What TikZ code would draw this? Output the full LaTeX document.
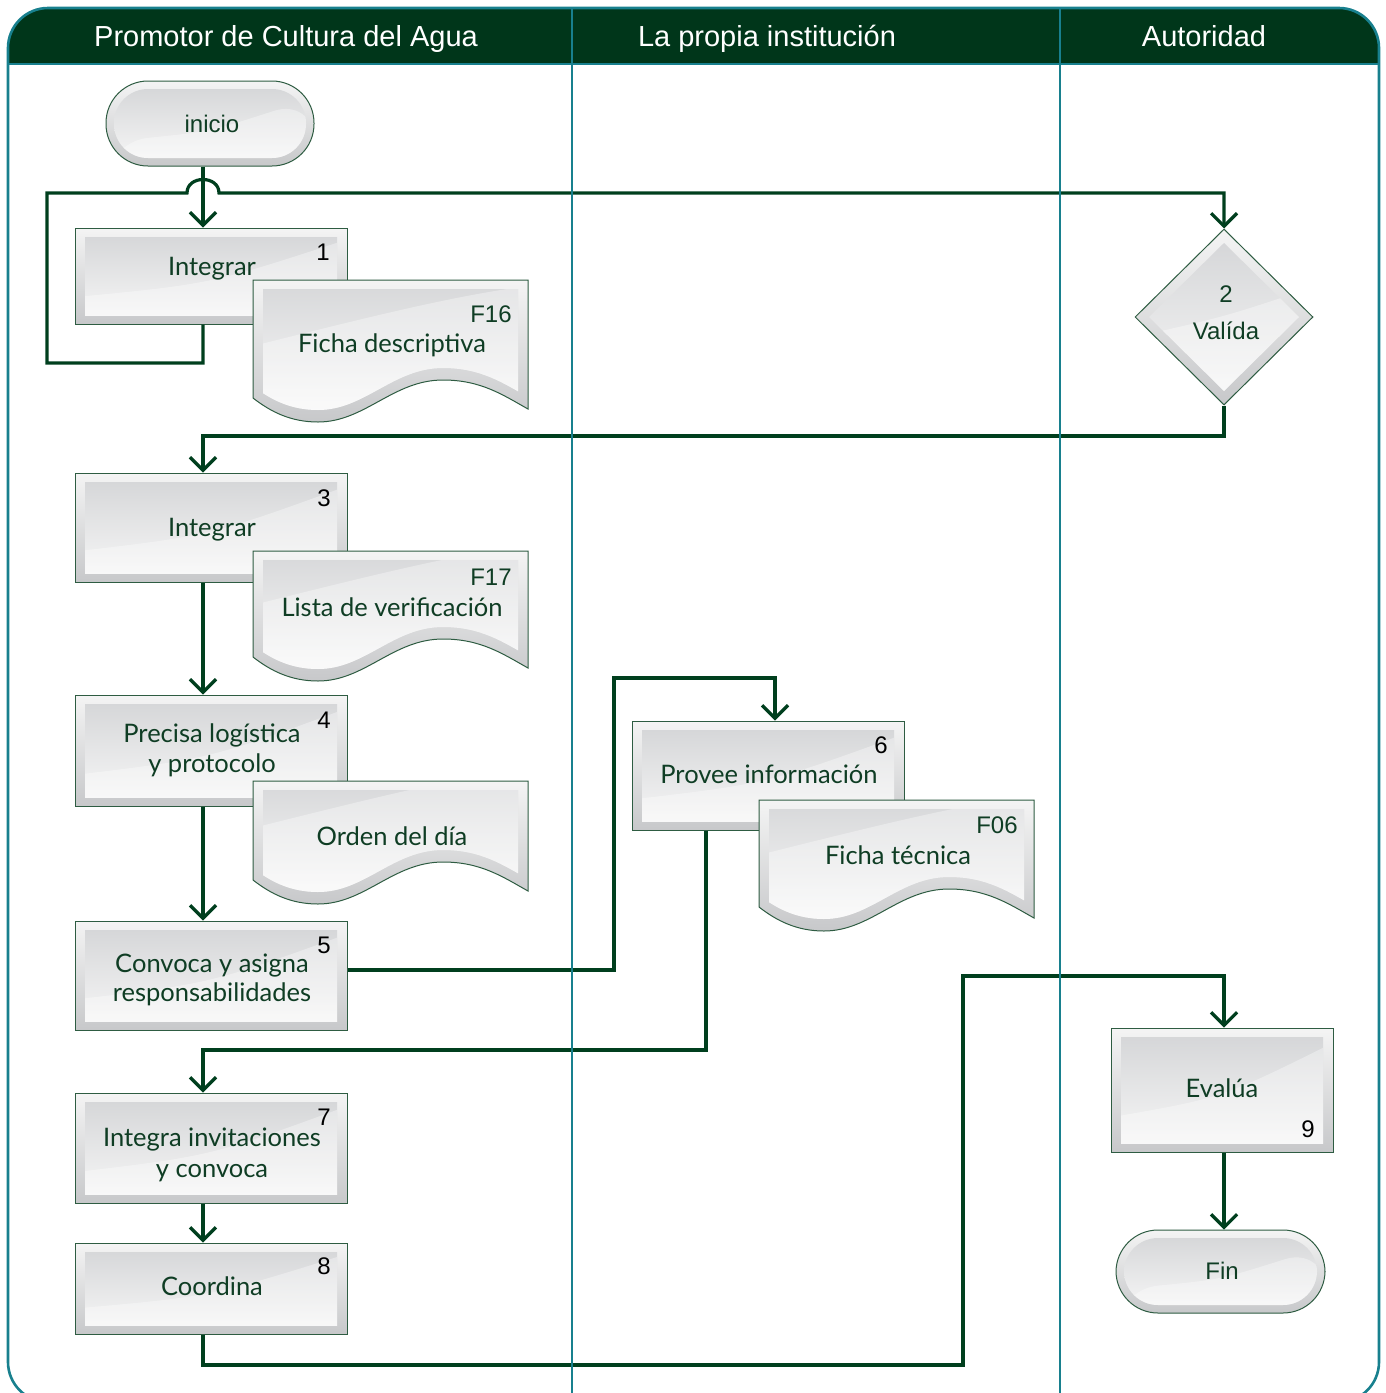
\documentclass[tikz,border=0pt]{standalone}
\usepackage{fontspec}
\setmainfont{Liberation Sans}
\newfontfamily\lblfont{Lato}
\usetikzlibrary{arrows.meta,calc,shapes.geometric}

\definecolor{hdrgreen}{HTML}{00361A}
\definecolor{laneteal}{HTML}{18808E}
\definecolor{flowgreen}{HTML}{003F1E}
\definecolor{edgegreen}{HTML}{2E5C42}
\definecolor{txtgreen}{HTML}{0F3D24}
\definecolor{bevtop}{HTML}{F4F4F4}
\definecolor{bevmid}{HTML}{BDBEC0}
\definecolor{bevbot}{HTML}{C7C8CA}
\definecolor{paneltop}{HTML}{D3D4D6}
\definecolor{panelbot}{HTML}{F8F8F8}

\tikzset{
  bevel/.style={top color=bevtop, middle color=bevmid, bottom color=bevbot},
  panel/.style={top color=paneltop, bottom color=panelbot, draw=none},
  gloss/.style={fill=white, opacity=0.35, draw=none},
  procbox/.style={rectangle, draw=edgegreen, line width=1pt, inner sep=0pt, bevel,
    path picture={
      \shade[panel] ($(path picture bounding box.north west)+(10,9)$) rectangle ($(path picture bounding box.south east)+(-10,-9)$);
      \begin{scope}
        \clip ($(path picture bounding box.north west)+(10,9)$) rectangle ($(path picture bounding box.south east)+(-10,-9)$);
        \fill[gloss] ($(path picture bounding box.north west)!0.72!(path picture bounding box.south west)$)
          .. controls ($(path picture bounding box.center)+(0,8)$) ..
          ($(path picture bounding box.north east)!0.12!(path picture bounding box.south east)$)
          -- (path picture bounding box.south east) -- (path picture bounding box.south west) -- cycle;
      \end{scope}
    }},
  termbox/.style={rectangle, rounded corners=42, draw=edgegreen, line width=1pt, inner sep=0pt, bevel,
    path picture={
      \shade[panel, rounded corners=34] ($(path picture bounding box.north west)+(8,8)$) rectangle ($(path picture bounding box.south east)+(-8,-8)$);
      \begin{scope}
        \clip[rounded corners=34] ($(path picture bounding box.north west)+(8,8)$) rectangle ($(path picture bounding box.south east)+(-8,-8)$);
        \fill[gloss] ($(path picture bounding box.north west)!0.72!(path picture bounding box.south west)$)
          .. controls ($(path picture bounding box.center)+(0,8)$) ..
          ($(path picture bounding box.north east)!0.2!(path picture bounding box.south east)$)
          -- (path picture bounding box.south east) -- (path picture bounding box.south west) -- cycle;
      \end{scope}
    }},
  decbox/.style={diamond, draw=edgegreen, line width=1pt, inner sep=0pt, bevel,
    path picture={
      \shade[panel] ($(path picture bounding box.center)+(-75,0)$) -- ($(path picture bounding box.center)+(0,-74)$)
        -- ($(path picture bounding box.center)+(75,0)$) -- ($(path picture bounding box.center)+(0,74)$) -- cycle;
      \begin{scope}
        \clip ($(path picture bounding box.center)+(-75,0)$) -- ($(path picture bounding box.center)+(0,-74)$)
          -- ($(path picture bounding box.center)+(75,0)$) -- ($(path picture bounding box.center)+(0,74)$) -- cycle;
        \fill[gloss] ($(path picture bounding box.center)+(-90,20)$) .. controls ($(path picture bounding box.center)+(0,0)$) ..
          ($(path picture bounding box.center)+(90,-30)$) -- ($(path picture bounding box.center)+(90,90)$) -- ($(path picture bounding box.center)+(-90,90)$) -- cycle;
      \end{scope}
    }},
  docpath/.style={insert path={(0,0) -- (275,0) -- (275,#1+11)
    .. controls (250,#1-3) and (228,#1-18) .. (190,#1-18)
    .. controls (140,#1-18) and (112,#1+24) .. (65,#1+24)
    .. controls (38,#1+24) and (18,#1+14) .. (0,#1) -- cycle}},
  flow/.style={draw=flowgreen, line width=3.2pt, -{Straight Barb[length=13pt,width=26pt]}},
  hdrtext/.style={text=white, font=\fontsize{29}{34}\selectfont, anchor=base, inner sep=0pt},
  boxtext/.style={text=txtgreen, font=\lblfont\fontsize{25.5}{30}\selectfont, anchor=base, inner sep=0pt},
  plaintext/.style={text=txtgreen, font=\fontsize{24}{29}\selectfont, anchor=base, inner sep=0pt},
  numtext/.style={text=black, font=\fontsize{24}{29}\selectfont, anchor=base, inner sep=0pt},
}

% paper-form symbol with a wavy lower edge; #1 = x, #2 = y of top-left, #3 = height at left edge
\newcommand\docsheet[3]{%
  \begin{scope}[shift={(#1,#2)}]
    \shade[bevel, docpath=#3];
    \begin{scope}
      \clip (10,9) rectangle (265,#3+40);
      \begin{scope}[shift={(0,-12)}]
        \shade[panel, docpath=#3];
        \clip[docpath=#3];
        \fill[gloss] (0,#3-40) .. controls (120,#3-70) and (200,#3-90) .. (275,#3-100) -- (275,#3+40) -- (0,#3+40) -- cycle;
      \end{scope}
    \end{scope}
    \draw[edgegreen, line width=1pt, docpath=#3];
  \end{scope}}

\begin{document}
\begin{tikzpicture}[x=1pt, y=-1pt]
\useasboundingbox (0,0) rectangle (1385,1393);

% header band
\begin{scope}
  \clip (0,0) rectangle (1385,64);
  \fill[hdrgreen, rounded corners=40] (8,8) rectangle (1379,1402);
\end{scope}

% routing points
\coordinate (colA) at (203,0);
\coordinate (colC) at (1224,0);
\coordinate (loopL) at (47,363);
\coordinate (loopT) at (47,193);
\coordinate (hopL) at (187,193);
\coordinate (hopR) at (219,193);
\coordinate (j2) at (203,436);
\coordinate (j5) at (614,970);
\coordinate (j6) at (775,678);
\coordinate (j7a) at (706,1050);
\coordinate (j7) at (203,1050);
\coordinate (j8a) at (963,1365);
\coordinate (j8b) at (1224,976);

% process steps
\node[termbox, minimum width=208, minimum height=85] (start) at (210,123.5) {};
\node[procbox, minimum width=272, minimum height=96] (p1) at (211,276) {};
\node[decbox, minimum width=178, minimum height=176] (d2) at (1224,317) {};
\node[procbox, minimum width=272, minimum height=109] (p3) at (211,527.5) {};
\node[procbox, minimum width=272, minimum height=111] (p4) at (211,750.5) {};
\node[procbox, minimum width=272, minimum height=109] (p5) at (211,975.5) {};
\node[procbox, minimum width=272, minimum height=109] (p6) at (768,775.5) {};
\node[procbox, minimum width=272, minimum height=110] (p7) at (211,1148) {};
\node[procbox, minimum width=272, minimum height=91] (p8) at (211,1288.5) {};
\node[procbox, minimum width=222, minimum height=124] (p9) at (1222,1090) {};
\node[termbox, minimum width=209, minimum height=83] (fin) at (1220.5,1271.5) {};

% forms
\docsheet{253}{280}{118}
\docsheet{253}{551}{106}
\docsheet{253}{781}{99}
\docsheet{759}{800}{107}

% connectors
\draw[flow] (start.south -| colA) -- (p1.north -| colA);
\draw[flow] (p1.south -| colA) |- (loopL) -- (loopT) -- (hopL)
  .. controls +(0,-18) and +(0,-18) .. (hopR) -| (d2.north);
\draw[flow] (d2.south) |- (j2) -- (p3.north -| j2);
\draw[flow] (p3.south -| colA) -- (p4.north -| colA);
\draw[flow] (p4.south -| colA) -- (p5.north -| colA);
\draw[flow] (p5.east |- j5) -- (j5) |- (j6) -- (p6.north -| j6);
\draw[flow] (p6.south -| j7a) |- (j7) -- (p7.north -| j7);
\draw[flow] (p7.south -| colA) -- (p8.north -| colA);
\draw[flow] (p8.south -| colA) |- (j8a) |- (j8b) -- (p9.north -| j8b);
\draw[flow] (p9.south -| colC) -- (fin.north -| colC);

% lanes and frame
\draw[laneteal, line width=1.2pt] (572,64) -- (572,1402);
\draw[laneteal, line width=1.2pt] (1060,8) -- (1060,1402);
\draw[laneteal, line width=1.2pt] (572,8) -- (572,64);
\draw[laneteal, line width=2.6pt] (8,64) -- (1379,64);
\draw[laneteal, line width=2.6pt, rounded corners=40] (8,8) rectangle (1379,1402);

% lane titles
\node[hdrtext] (h1) at (286,46) {Promotor de Cultura del Agua};
\node[hdrtext] (h2) at (767,46) {La propia institución};
\node[hdrtext] (h3) at (1204,46) {Autoridad};

% labels
\node[plaintext] (tstart) at (212,132) {inicio};
\node[boxtext] (t1) at (212,275) {Integrar};
\node[numtext] (n1) at (323,260) {1};
\node[numtext, text=txtgreen] (f16) at (491,322) {F16};
\node[boxtext] (tf16) at (392,352) {Ficha descriptiva};
\node[plaintext] (n2) at (1226,302) {2};
\node[plaintext] (t2) at (1226,339) {Valída};
\node[boxtext] (t3) at (212,536) {Integrar};
\node[numtext] (n3) at (324,506) {3};
\node[numtext, text=txtgreen] (f17) at (491,585) {F17};
\node[boxtext] (tf17) at (392,616) {Lista de verificación};
\node[boxtext] (t4a) at (212,742) {Precisa logística};
\node[boxtext] (t4b) at (212,772) {y protocolo};
\node[numtext] (n4) at (324,728) {4};
\node[boxtext] (tod) at (392,845) {Orden del día};
\node[boxtext] (t5a) at (212,972) {Convoca y asigna};
\node[boxtext] (t5b) at (212,1001) {responsabilidades};
\node[numtext] (n5) at (324,953) {5};
\node[boxtext] (t6) at (769,783) {Provee información};
\node[numtext] (n6) at (881,753) {6};
\node[numtext, text=txtgreen] (f06) at (997,833) {F06};
\node[boxtext] (tf06) at (898,864) {Ficha técnica};
\node[boxtext] (t7a) at (212,1146) {Integra invitaciones};
\node[boxtext] (t7b) at (212,1177) {y convoca};
\node[numtext] (n7) at (324,1125) {7};
\node[boxtext] (t8) at (212,1295) {Coordina};
\node[numtext] (n8) at (324,1274) {8};
\node[boxtext] (t9) at (1222,1097) {Evalúa};
\node[numtext] (n9) at (1308,1137) {9};
\node[plaintext] (tfin) at (1222,1279) {Fin};
\end{tikzpicture}
\end{document}
